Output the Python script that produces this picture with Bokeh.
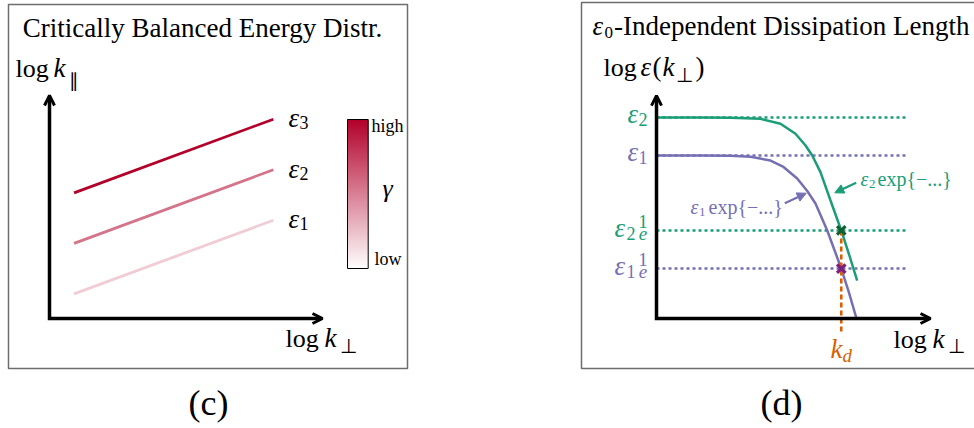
import numpy as np
from bokeh.plotting import figure
from bokeh.layouts import row
from bokeh.models import Range1d, Label, Arrow, OpenHead, NormalHead
from bokeh.embed import file_html
from bokeh.resources import INLINE

# ------------------------------------------------------------------ DATA
# Panel (c): critically balanced energy distribution (schematic units)
c_title = "Critically Balanced Energy Distr."
c_kperp_span = [0.9, 8.2]            # log k_perp start / end of each line
c_eps_sub = ["1", "2", "3"]           # epsilon_1 .. epsilon_3
c_kpar_start = [0.9, 2.75, 4.6]       # log k_par at line start
c_kpar_end = [3.6, 5.45, 7.3]         # log k_par at line end
c_axis_tip = [10.0, 8.17]             # x / y arrow tips
c_cbar_ticks = ["high", "low"]
c_cbar_name = "γ"
c_caption = "(c)"

# Panel (d): eps0-independent dissipation length (schematic units, ln eps)
d_title_rest = "-Independent Dissipation Length"
d_level_sub = ["2", "1", "2", "1"]
d_level_frac = [False, False, True, True]
d_levels = [1.779, 1.442, 0.779, 0.442]   # eps2, eps1, eps2/e, eps1/e
d_level_series = ["g", "p", "g", "p"]
d_green_x = [0.000, 0.389, 0.655, 0.920, 1.097, 1.230, 1.319, 1.378, 1.451, 1.540, 1.635, 1.702, 1.776]
d_green_y = [1.779, 1.779, 1.776, 1.767, 1.723, 1.635, 1.531, 1.442, 1.295, 1.044, 0.779, 0.573, 0.336]
d_purple_x = [0.000, 0.389, 0.655, 0.832, 1.009, 1.124, 1.245, 1.334, 1.407, 1.511, 1.635, 1.702, 1.770]
d_purple_y = [1.442, 1.442, 1.440, 1.431, 1.398, 1.341, 1.239, 1.128, 1.018, 0.779, 0.442, 0.233, 0.000]
d_kd = 1.635
d_kd_bottom = -0.124
d_axis_tip = [2.425, 1.973]
d_dotted_end = 2.204
d_caption = "(d)"

# ------------------------------------------------------------------ STYLE / LAYOUT
FONT = "Liberation Serif"
W, H = 487, 428
SC, SD = 27.3, 113.0                 # px per unit in each panel
C_O = (49.0, 318.0)                  # origin of panel c axes (window px)
D_O = (656.0, 318.0)                 # origin of panel d axes (window px)
RED = np.array([178, 0, 42])
GREEN, PURPLE, ORANGE = "#1b9e77", "#7570b3", "#d95f02"
FRAME = "#6e6e6e"
BASE_FIX = 0.30                      # empirical baseline correction (em)


def mix(t):
    c = (1 - t) * np.array([255, 255, 255]) + t * RED
    return "#%02x%02x%02x" % tuple(int(round(v)) for v in c)


def conv_c(X, Y):
    return (X - C_O[0]) / SC, (C_O[1] - Y) / SC


def conv_d(X, Y):
    return (X - D_O[0]) / SD, (D_O[1] - Y) / SD


def make_fig(ox_local, oy, s):
    p = figure(width=W, height=H, output_backend="svg", toolbar_location=None,
               x_range=Range1d(-ox_local / s, (W - ox_local) / s),
               y_range=Range1d(-(H - oy) / s, oy / s),
               min_border=0, min_border_left=0, min_border_right=0,
               min_border_top=0, min_border_bottom=0,
               x_axis_location=None, y_axis_location=None,
               outline_line_color=None)
    p.xgrid.grid_line_color = None
    p.ygrid.grid_line_color = None
    p.background_fill_color = "white"
    p.border_fill_color = "white"
    return p


def label(p, conv, X, Y, text, size, color="black", style="normal", align="left"):
    x, y = conv(X, Y - BASE_FIX * size)
    p.add_layout(Label(x=x, y=y, text=text, text_font=FONT, text_font_size=f"{size}px",
                       text_color=color, text_font_style=style, text_align=align,
                       text_baseline="alphabetic"))


def axes(p, tipx, tipy, px):
    back = 1.5 * px
    p.line([0, 0, tipx - back], [tipy - back, 0, 0], line_width=3.5, color="black",
           line_join="miter")
    for xs, ys, xe, ye in [(0, tipy - 3 * back, 0, tipy), (tipx - 3 * back, 0, tipx, 0)]:
        p.add_layout(Arrow(end=OpenHead(size=10, line_width=3, line_color="black"),
                           x_start=xs, y_start=ys, x_end=xe, y_end=ye, line_alpha=0))


# ------------------------------------------------------------------ PANEL C
pc = make_fig(C_O[0], C_O[1], SC)
fl, ft = conv_c(8, 4)
fr, fb = conv_c(407, 368)
pc.quad(left=[fl], right=[fr], top=[ft], bottom=[fb], fill_color=None,
        line_color=FRAME, line_width=1.5)

line_cols = [mix(0.2), mix(0.55), mix(1.0)]
pc.segment(x0=[c_kperp_span[0]] * 3, y0=c_kpar_start, x1=[c_kperp_span[1]] * 3,
           y1=c_kpar_end, line_color=line_cols, line_width=2.8)
axes(pc, c_axis_tip[0], c_axis_tip[1], 1.0 / SC)

label(pc, conv_c, 202, 36, c_title, 27, align="center")
label(pc, conv_c, 15, 76, "log", 26)
label(pc, conv_c, 53, 76, "k", 27, style="italic")
label(pc, conv_c, 68, 86, "∥", 19)
label(pc, conv_c, 285, 346, "log", 26)
label(pc, conv_c, 324, 346, "k", 27, style="italic")
label(pc, conv_c, 339, 351, "⊥", 20)

for sub, yend in zip(c_eps_sub, c_kpar_end):
    ypx = C_O[1] - yend * SC
    label(pc, conv_c, 288, ypx + 7, "ε", 27, style="italic")
    label(pc, conv_c, 299, ypx + 9, sub, 18)

# colour bar (overlapping bands so no seams)
cb_l, cb_b = conv_c(347, 268)
cb_r, cb_t = conv_c(367.7, 119)
n = 80
edges = np.linspace(cb_b, cb_t, n + 1)
step = edges[1] - edges[0]
tops = np.minimum(edges[1:] + step, cb_t)
cols = [mix((i + 0.5) / n) for i in range(n)]
pc.quad(left=[cb_l] * n, right=[cb_r] * n, bottom=edges[:-1], top=tops,
        fill_color=cols, line_color=None)
pc.quad(left=[cb_l], right=[cb_r], bottom=[cb_b], top=[cb_t], fill_color=None,
        line_color="black", line_width=1)
label(pc, conv_c, 371, 131, c_cbar_ticks[0], 18)
label(pc, conv_c, 374, 264, c_cbar_ticks[1], 18)
label(pc, conv_c, 387, 196, c_cbar_name, 26, style="italic", align="center")
label(pc, conv_c, 208, 413, c_caption, 36, align="center")

# ------------------------------------------------------------------ PANEL D
pd_ = make_fig(D_O[0] - W, D_O[1], SD)
fl, ft = conv_d(581, 2)
fr, fb = conv_d(1000, 368)
pd_.quad(left=[fl], right=[fr], top=[ft], bottom=[fb], fill_color=None,
         line_color=FRAME, line_width=1.5)

col_of = {"g": GREEN, "p": PURPLE}
for lev, s in zip(d_levels, d_level_series):
    pd_.line([0, d_dotted_end], [lev, lev], line_color=col_of[s], line_width=2.5,
             line_dash="3 3")

pd_.line(d_green_x, d_green_y, line_color=GREEN, line_width=2.5)
pd_.line(d_purple_x, d_purple_y, line_color=PURPLE, line_width=2.5)
pd_.line([d_kd, d_kd], [d_levels[2], d_kd_bottom], line_color=ORANGE, line_width=2.6,
         line_dash="5 3")
pd_.scatter([d_kd], [d_levels[2]], marker="x", size=12, line_width=3.2, color="#0f5f30")
pd_.scatter([d_kd], [d_levels[3]], marker="x", size=12, line_width=3.2, color="#7d1d7d")
axes(pd_, d_axis_tip[0], d_axis_tip[1], 1.0 / SD)

# annotation arrows
for (x0, y0, x1, y1), c in [((855.7, 182.3, 834.3, 192.3), GREEN),
                            ((784.3, 202.7, 805.7, 192.7), PURPLE)]:
    a0 = conv_d(x0, y0)
    a1 = conv_d(x1, y1)
    pd_.add_layout(Arrow(end=NormalHead(size=9, fill_color=c, line_color=c, line_width=1),
                         x_start=a0[0], y_start=a0[1], x_end=a1[0], y_end=a1[1],
                         line_color=c, line_width=2.2))

# titles / axis names
label(pd_, conv_d, 592, 33.5, "ε", 27, style="italic")
label(pd_, conv_d, 604, 37, "0", 17)
label(pd_, conv_d, 613.5, 33.5, d_title_rest, 27)
label(pd_, conv_d, 603, 75, "log", 26)
label(pd_, conv_d, 640, 75, "ε", 27, style="italic")
label(pd_, conv_d, 652, 75, "(", 27)
label(pd_, conv_d, 662, 75, "k", 27, style="italic")
label(pd_, conv_d, 675, 80, "⊥", 20)
label(pd_, conv_d, 695, 75, ")", 27)
label(pd_, conv_d, 893, 346.5, "log", 26)
label(pd_, conv_d, 932, 346.5, "k", 27, style="italic")
label(pd_, conv_d, 947, 351, "⊥", 20)

# level labels
for lev, sub, frac, s in zip(d_levels, d_level_sub, d_level_frac, d_level_series):
    c = col_of[s]
    ypx = D_O[1] - lev * SD
    if not frac:
        label(pd_, conv_d, 627, ypx + 4.5, "ε", 27, color=c, style="italic")
        label(pd_, conv_d, 638, ypx + 7.5, sub, 18, color=c)
    else:
        label(pd_, conv_d, 614, ypx + 5.5, "ε", 27, color=c, style="italic")
        label(pd_, conv_d, 626, ypx + 8.5, sub, 18, color=c)
        label(pd_, conv_d, 642.5, ypx - 3.5, "1", 19, color=c, align="center")
        label(pd_, conv_d, 642.5, ypx + 8.5, "e", 19, color=c, style="italic", align="center")

# curve annotations
label(pd_, conv_d, 860, 184, "ε", 20, color=GREEN, style="italic")
label(pd_, conv_d, 868.5, 187, "2", 13, color=GREEN)
label(pd_, conv_d, 877, 184, "exp{−...}", 20, color=GREEN)
label(pd_, conv_d, 690, 212, "ε", 20, color=PURPLE, style="italic")
label(pd_, conv_d, 698.5, 215, "1", 13, color=PURPLE)
label(pd_, conv_d, 708, 212, "exp{−...}", 20, color=PURPLE)

# k_d
label(pd_, conv_d, 830, 357, "k", 27, color=ORANGE, style="italic")
label(pd_, conv_d, 842, 361, "d", 19, color=ORANGE, style="italic")
label(pd_, conv_d, 781, 413, d_caption, 36, align="center")

layout = row(pc, pd_, spacing=0)
open("out.html", "w").write(file_html(layout, INLINE))
